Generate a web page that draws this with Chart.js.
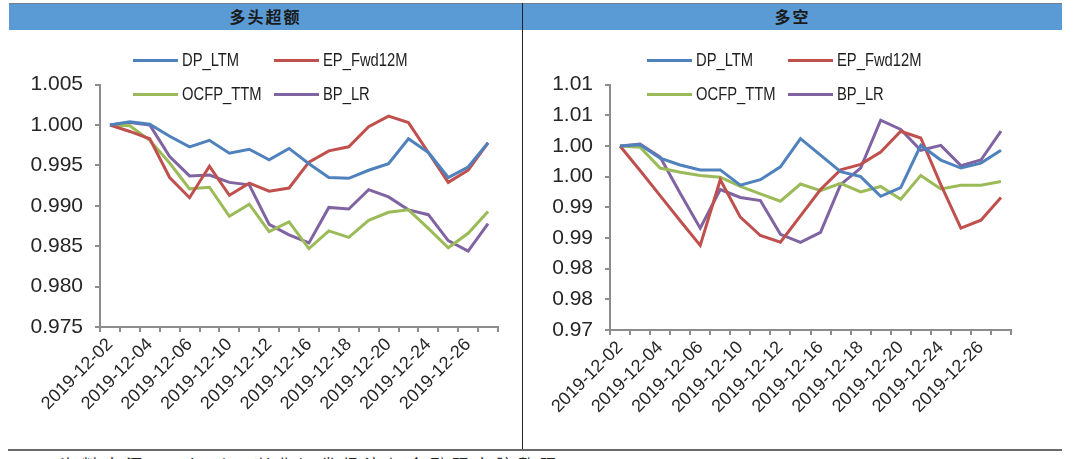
<!DOCTYPE html>
<html>
<head>
<meta charset="utf-8">
<script src="https://cdn.jsdelivr.net/npm/chart.js@4"></script>
<style>
  html, body { margin:0; padding:0; background:#fff; width:1080px; height:459px; overflow:hidden; position:relative; }
  .hdr { position:absolute; left:9px; top:3px; width:1053px; height:26px; background:#5B9BD5; border-top:1px solid #6f7f8f; }
  .ttl { position:absolute; top:3px; height:27px; line-height:27px; font-family:"Noto Sans CJK SC", sans-serif; font-weight:bold; font-size:16px; color:#1a1a1a; text-align:center; letter-spacing:2px; }
  .vdiv { position:absolute; left:522px; top:3px; width:1px; height:446px; background:#222; }
  .hline { position:absolute; left:8px; top:449px; width:1054px; height:2px; background:#6a6a6a; }
  .src { position:absolute; left:60px; top:452px; font-family:"Noto Sans CJK SC", sans-serif; font-size:16px; color:#222; letter-spacing:6px; white-space:nowrap; }
  canvas { position:absolute; }
  .lg { position:absolute; height:20px; }
  .lg .ln { position:absolute; top:9px; width:45px; height:3px; }
  .lg .tx { position:absolute; top:0; left:49px; font-family:"Liberation Sans", Arial, sans-serif; font-size:18px; line-height:20px; color:#1e1e1e; transform:scaleX(0.82); transform-origin:left center; white-space:nowrap; }
</style>
</head>
<body>
<div class="hdr"></div>
<div class="ttl" style="left:9px;width:513px;">多头超额</div>
<div class="ttl" style="left:523px;width:539px;">多空</div>
<div class="vdiv"></div>
<canvas id="c1" width="522" height="389" style="left:0;top:60px;"></canvas>
<canvas id="c2" width="538" height="389" style="left:522px;top:60px;"></canvas>
<div id="leg"></div>
<div class="hline"></div>
<div class="src">资料来源：Wind，兴业证券经济与金融研究院整理</div>
<script>
const dates = ['2019-12-02','2019-12-03','2019-12-04','2019-12-05','2019-12-06','2019-12-09','2019-12-10','2019-12-11','2019-12-12','2019-12-13','2019-12-16','2019-12-17','2019-12-18','2019-12-19','2019-12-20','2019-12-23','2019-12-24','2019-12-25','2019-12-26','2019-12-27'];
const seriesNames = ['DP_LTM','EP_Fwd12M','OCFP_TTM','BP_LR'];
const seriesColors = ['#4F81BD','#C0504D','#9BBB59','#8064A2'];

// 多头超额
const longDP   = [1.0000,1.0004,1.0001,0.9986,0.9973,0.9981,0.9965,0.9970,0.9957,0.9971,0.9952,0.9935,0.9934,0.9944,0.9952,0.9983,0.9966,0.9935,0.9948,0.9978];
const longEP   = [1.0000,0.9992,0.9983,0.9935,0.9910,0.9949,0.9913,0.9928,0.9918,0.9922,0.9954,0.9968,0.9973,0.9998,1.0011,1.0003,0.9966,0.9929,0.9944,0.9978];
const longOCFP = [1.0000,0.9999,0.9981,0.9953,0.9921,0.9923,0.9887,0.9902,0.9868,0.9880,0.9847,0.9869,0.9861,0.9882,0.9892,0.9895,0.9872,0.9848,0.9866,0.9893];
const longBP   = [1.0000,1.0003,1.0000,0.9961,0.9937,0.9938,0.9929,0.9926,0.9877,0.9864,0.9854,0.9898,0.9896,0.9920,0.9911,0.9895,0.9889,0.9857,0.9844,0.9878];

// 多空
const lsDP   = [1.0000,1.0002,0.9980,0.9969,0.9961,0.9961,0.9936,0.9945,0.9966,1.0012,0.9985,0.9958,0.9950,0.9918,0.9932,1.0001,0.9977,0.9964,0.9972,0.9993];
const lsEP   = [1.0000,0.9960,0.9919,0.9878,0.9838,0.9945,0.9884,0.9854,0.9843,0.9886,0.9929,0.9961,0.9970,0.9990,1.0024,1.0013,0.9937,0.9866,0.9879,0.9916];
const lsOCFP = [1.0000,0.9998,0.9964,0.9957,0.9952,0.9949,0.9934,0.9922,0.9910,0.9938,0.9927,0.9939,0.9925,0.9934,0.9913,0.9952,0.9930,0.9936,0.9936,0.9942];
const lsBP   = [1.0000,1.0003,0.9982,0.9923,0.9866,0.9929,0.9916,0.9911,0.9856,0.9843,0.9859,0.9937,0.9964,1.0042,1.0027,0.9993,1.0001,0.9968,0.9977,1.0024];

const leftYTicks  = ['0.975','0.980','0.985','0.990','0.995','1.000','1.005'];
const rightYTicks = ['0.97','0.98','0.98','0.99','0.99','1.00','1.00','1.01','1.01'];

const axisGray = '#8c8c8c';
const tickFont = { family: '"Liberation Sans", Arial, sans-serif' };

function makeChart(id, data, yMin, yMax, yLabels, yWidth, xHeight, padTop, padRight) {
  return new Chart(document.getElementById(id), {
    type: 'line',
    data: {
      labels: dates,
      datasets: data.map((d, i) => ({
        label: seriesNames[i], data: d, borderColor: seriesColors[i], backgroundColor: seriesColors[i],
        borderWidth: 3, pointRadius: 0, tension: 0, fill: false
      }))
    },
    options: {
      responsive: false, animation: false, devicePixelRatio: 1,
      layout: { padding: { top: padTop, right: padRight, bottom: 0, left: 0 } },
      plugins: { legend: { display: false }, tooltip: { enabled: false } },
      scales: {
        x: {
          type: 'category', offset: true,
          grid: { display: true, drawOnChartArea: false, drawTicks: true, tickLength: 5, offset: true, color: axisGray, lineWidth: 2 },
          border: { display: true, color: axisGray, width: 2 },
          ticks: { autoSkip: false, maxRotation: 45, minRotation: 45, padding: 2, color: '#262626',
                   font: Object.assign({ size: 18 }, tickFont),
                   callback: (v, i) => (i % 2 === 0 ? dates[i] : '') },
          afterFit: s => { s.height = xHeight; }
        },
        y: {
          min: yMin, max: yMax,
          grid: { display: true, drawOnChartArea: false, drawTicks: true, tickLength: 5, color: axisGray, lineWidth: 2 },
          border: { display: true, color: axisGray, width: 2 },
          ticks: { stepSize: 0.005, padding: 12, color: '#262626', font: Object.assign({ size: 21 }, tickFont),
                   callback: (v, i) => yLabels[i] },
          afterFit: s => { s.width = yWidth; }
        }
      }
    }
  });
}

makeChart('c1', [longDP, longEP, longOCFP, longBP], 0.975, 1.005, leftYTicks, 100, 122, 19, 24);
makeChart('c2', [lsDP, lsEP, lsOCFP, lsBP], 0.97, 1.01, rightYTicks, 88, 119, 19, 49);

// legends
const legendSpots = [
  [133, 50], [274, 50], [133, 84], [274, 84],
  [647, 50], [788, 50], [647, 84], [788, 84]
];
const legHost = document.getElementById('leg');
legendSpots.forEach((p, k) => {
  const i = k % 4;
  const d = document.createElement('div');
  d.className = 'lg';
  d.style.left = p[0] + 'px'; d.style.top = p[1] + 'px';
  d.innerHTML = '<div class="ln" style="background:' + seriesColors[i] + '"></div><div class="tx">' + seriesNames[i] + '</div>';
  legHost.appendChild(d);
});
</script>
</body>
</html>
